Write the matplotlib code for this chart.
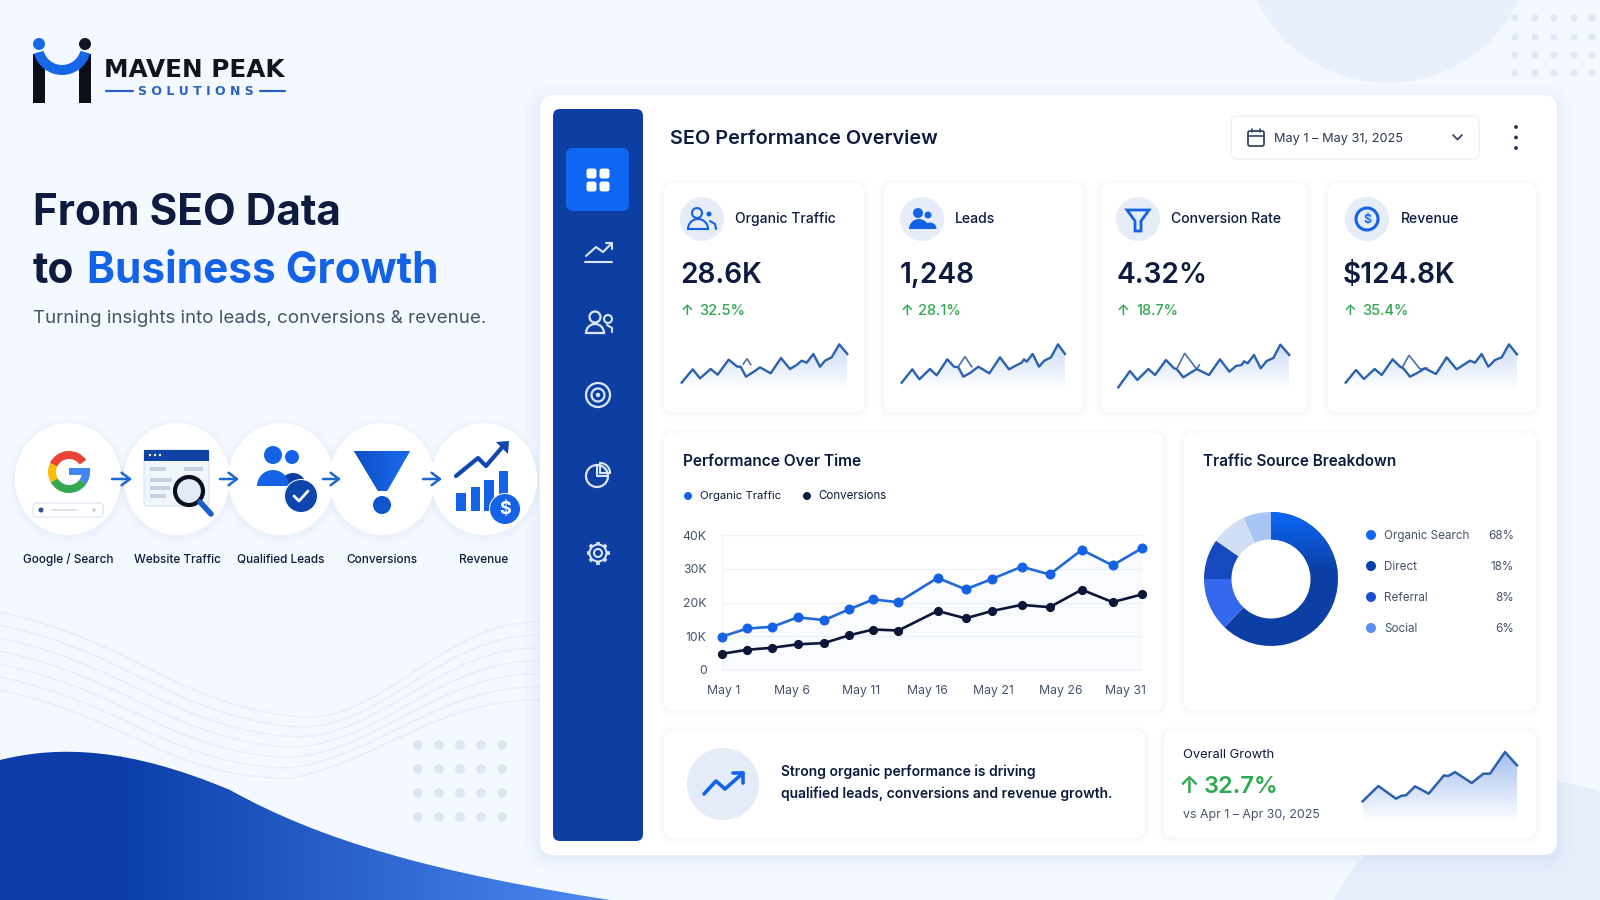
import numpy as np
import matplotlib
matplotlib.use("Agg")
import matplotlib.pyplot as plt
from matplotlib.patches import Circle, Ellipse, FancyBboxPatch, Rectangle, Polygon, Wedge, PathPatch
from matplotlib.path import Path
from matplotlib.colors import LinearSegmentedColormap

plt.rcParams['font.family'] = ['Inter', 'DejaVu Sans']

# ---- data ----
days = [1, 2.8, 4.6, 6.4, 8.3, 10.1, 11.8, 13.6, 16.4, 18.4, 20.3, 22.4, 24.4, 26.7, 28.9, 31]
organic = [9.9, 12.3, 12.8, 15.6, 14.8, 18.0, 20.9, 20.1, 27.3, 23.9, 27.0, 30.6, 28.3, 35.6, 31.0, 36.1]
conversions = [4.8, 6.0, 6.6, 7.6, 8.0, 10.3, 12.0, 11.7, 17.5, 15.3, 17.5, 19.3, 18.6, 23.8, 20.1, 22.4]
y_ticks = [0, 10, 20, 30, 40]
y_labels = ['0', '10K', '20K', '30K', '40K']
x_tick_days = [1.1, 6, 10.9, 15.7, 20.4, 25.2, 29.8]
x_labels = ['May 1', 'May 6', 'May 11', 'May 16', 'May 21', 'May 26', 'May 31']

kpi_names = ['Organic Traffic', 'Leads', 'Conversion Rate', 'Revenue']
kpi_values = ['28.6K', '1,248', '4.32%', '$124.8K']
kpi_growth = ['32.5%', '28.1%', '18.7%', '35.4%']

spark1_x = [95, 128, 150, 182, 203, 236, 262, 272, 288, 310, 330, 362, 393, 420, 440, 455, 470, 490, 510, 525, 545, 568, 592]
spark1_y = [22, 62, 35, 63, 46, 91, 70, 70, 40, 54, 68, 50, 96, 63, 75, 88, 82, 108, 70, 88, 98, 137, 108]
spark2_x = [755, 787, 808, 840, 860, 892, 912, 925, 940, 962, 985, 1018, 1050, 1077, 1097, 1115, 1122, 1130, 1148, 1167, 1183, 1203, 1224, 1245]
spark2_y = [22, 62, 32, 63, 44, 92, 70, 68, 40, 52, 70, 50, 98, 62, 73, 82, 92, 85, 108, 70, 88, 98, 137, 108]
spark3_x = [115, 150, 172, 205, 225, 258, 282, 290, 310, 332, 350, 387, 420, 448, 468, 485, 492, 503, 522, 542, 560, 580, 601, 628]
spark3_y = [8, 57, 30, 63, 45, 90, 65, 63, 38, 52, 63, 45, 92, 55, 72, 75, 86, 80, 105, 65, 87, 96, 136, 105]
spark4_x = [797, 828, 852, 884, 905, 938, 960, 970, 990, 1010, 1035, 1068, 1100, 1130, 1150, 1170, 1185, 1205, 1225, 1245, 1265, 1287, 1311]
spark4_y = [22, 60, 33, 63, 45, 92, 70, 65, 40, 50, 65, 48, 98, 62, 75, 88, 82, 108, 70, 90, 98, 137, 107]
# little stray strokes that sit on top of the sparklines
stray1_x, stray1_y = [280, 291, 302], [78, 94, 76]
stray2_x, stray2_y = [925, 945, 965], [70, 100, 70]
stray3_x, stray3_y = [290, 314, 350, 358], [63, 110, 63, 75]
stray4_x, stray4_y = [968, 987, 1020, 1040], [70, 104, 63, 66]
overall_x = [668, 715, 768, 785, 798, 825, 848, 866, 912, 925, 945, 995, 1030, 1050, 1095, 1131]
overall_y = [62, 108, 70, 79, 80, 107, 95, 85, 140, 138, 150, 117, 145, 145, 210, 170]

donut_shares = [62.2, 12.8, 9.7, 8.6, 6.7]
donut_colors = ['#0c3fa3', '#3568ee', '#1549bd', '#d0def6', '#a8c5f4']
source_names = ['Organic Search', 'Direct', 'Referral', 'Social']
source_pct = ['68%', '18%', '8%', '6%']
source_colors = ['#1467f0', '#0d3fa8', '#1a50d0', '#5b8cf0']

step_names = ['Google / Search', 'Website Traffic', 'Qualified Leads', 'Conversions', 'Revenue']

NAVY = '#0d1b3e'
BLUE = '#1463e6'
DEEP = '#0d3fa3'
GREEN = '#2fa84f'
GREY = '#47536a'

fig = plt.figure(figsize=(16, 9), dpi=100, facecolor='#f4f8ff')
bg = fig.add_axes([0, 0, 1, 1])
bg.set_xlim(0, 1600)
bg.set_ylim(900, 0)
bg.axis('off')


def box(x0, y0, x1, y1, r=12, fc='white', ec='none', lw=1, z=3, ax=bg):
    p = FancyBboxPatch((x0 + r, y0 + r), x1 - x0 - 2 * r, y1 - y0 - 2 * r,
                       boxstyle=f'round,pad={r},rounding_size={r}', fc=fc, ec=ec, lw=lw, zorder=z)
    ax.add_patch(p)
    return p


def card(x0, y0, x1, y1):
    # soft shadow then white card
    for grow, a in [(5, 0.02), (3, 0.03), (1.5, 0.04)]:
        box(x0 - grow, y0 - grow + 1, x1 + grow, y1 + grow + 1, r=10 + grow, fc='#b9cdee', z=3.4)
        bg.patches[-1].set_alpha(a)
    box(x0, y0, x1, y1, r=10, fc='white', ec='#f6f8fc', z=3.5)


def circle(x, y, r, fc, z=5, ec='none', lw=1):
    c = Circle((x, y), r, fc=fc, ec=ec, lw=lw, zorder=z)
    bg.add_patch(c)
    return c


def line(xs, ys, color, lw=2, z=6, ax=bg, cap='round'):
    ax.plot(xs, ys, color=color, lw=lw, zorder=z, solid_capstyle=cap, solid_joinstyle='round')


def label(x, y, s, size=9, color=NAVY, weight='normal', ha='left', va='center', z=7):
    # Inter sits a bit high when centred, nudge it down
    return bg.text(x, y + 0.5 + 0.12 * size, s, fontsize=size, color=color, fontweight=weight, ha=ha, va=va, zorder=z)


def grad_clip(ax, patch, c0, c1, extent, horizontal=False, z=2):
    cmap = LinearSegmentedColormap.from_list('g', [c0, c1])
    g = np.linspace(0, 1, 256)
    g = g.reshape(1, -1) if horizontal else g.reshape(-1, 1)
    xl, yl = ax.get_xlim(), ax.get_ylim()
    im = ax.imshow(g, extent=extent, cmap=cmap, aspect='auto', zorder=z, origin='upper')
    im.set_clip_path(patch)
    ax.set_xlim(xl)
    ax.set_ylim(yl)


def spark(x, y, box_px, top, lw=1.7, fill_top=0.28, stray=None):
    left, bottom_px, w, h = box_px
    ax = fig.add_axes([left / 1600, 1 - bottom_px / 900, w / 1600, h / 900])
    ax.patch.set_alpha(0)
    ax.axis('off')
    ax.set_xlim(x[0], x[-1])
    ax.set_ylim(0, top)
    poly = Polygon(list(zip(x, y)) + [(x[-1], 0), (x[0], 0)], closed=True, fc='none', ec='none')
    ax.add_patch(poly)
    rgba = np.zeros((256, 1, 4))
    rgba[..., 0], rgba[..., 1], rgba[..., 2] = 0.25, 0.47, 0.88
    rgba[:, 0, 3] = np.linspace(fill_top, 0.0, 256)
    im = ax.imshow(rgba, extent=[x[0], x[-1], 0, top], aspect='auto', zorder=1, origin='upper')
    im.set_clip_path(poly)
    ax.set_xlim(x[0], x[-1])
    ax.set_ylim(0, top)
    if stray:
        ax.plot(stray[0], stray[1], color='#4d6fa8', lw=1.2, zorder=2, clip_on=False)
    ax.plot(x, y, color='#2c62ad', lw=lw, zorder=3, solid_joinstyle='round', clip_on=False)


# ---- background ----
circle(1388, -62, 145, '#e9f0fc', z=1)
circle(1530, 1000, 220, '#e6eefb', z=1)
for yy in [18, 37, 55, 73]:
    for xx in [1515, 1535, 1554, 1574, 1592]:
        circle(xx, yy, 3.6, '#e1e9f6', z=1)
for yy in [745, 769, 793, 817]:
    for xx in [418, 439, 460, 481, 502]:
        circle(xx, yy, 4.8, '#dde6f4', z=1)
for i in range(7):
    d = i * 13
    verts = [(0, 612 + d), (130, 640 + d), (170, 700 + d), (290, 716 + d * 0.8),
             (380, 730 + d * 0.4), (440, 620 + d), (540, 622 + d)]
    codes = [Path.MOVETO] + [Path.CURVE4] * 6
    bg.add_patch(PathPatch(Path(verts, codes), fc='none', ec='#e8eef8', lw=1, zorder=1))
wave_v = [(0, 760), (60, 745), (130, 748), (230, 790), (320, 840), (430, 872), (610, 900), (0, 900), (0, 760)]
wave_c = [Path.MOVETO, Path.CURVE4, Path.CURVE4, Path.CURVE4, Path.CURVE4, Path.CURVE4, Path.CURVE4,
          Path.LINETO, Path.CLOSEPOLY]
wave = PathPatch(Path(wave_v, wave_c), fc='none', ec='none', zorder=2)
bg.add_patch(wave)
grad_clip(bg, wave, '#0b3ea8', '#4f8cf5', [120, 620, 900, 740], horizontal=True)
bg.add_patch(PathPatch(Path(wave_v, wave_c), fc='none', ec='none', zorder=2))
left_wave = PathPatch(Path(wave_v, wave_c), fc='none', ec='none', zorder=2)
bg.add_patch(left_wave)
grad_clip(bg, left_wave, '#0b3ea8', '#0b3ea8', [0, 121, 900, 740], horizontal=True)

# ---- logo ----
bg.add_patch(Rectangle((33, 54), 12, 49, fc='#0c0f1a', zorder=4))
bg.add_patch(Rectangle((79, 54), 12, 49, fc='#0c0f1a', zorder=4))
bg.add_patch(Wedge((62, 46), 29, 15, 165, width=10, fc='#1668e8', zorder=5))
circle(39, 44, 6, '#1668e8')
circle(85, 44, 6, '#111522')
label(104, 67, 'MAVEN PEAK', size=17.8, weight='bold', color='#12151f').set_family('DejaVu Sans')
label(196, 90, 'S O L U T I O N S', size=9, weight='bold', color='#2a62c4', ha='center').set_family('DejaVu Sans')
line([106, 133], [91, 91], '#2a62c4', 1.6)
line([260, 285], [91, 91], '#2a62c4', 1.6)

# ---- headline ----
label(33, 209, 'From SEO Data', size=30.5, weight='bold')
label(33, 267, 'to', size=30.5, weight='bold')
label(87, 267, 'Business Growth', size=30.5, weight='bold', color=BLUE)
label(33, 316, 'Turning insights into leads, conversions & revenue.', size=13.5, color=GREY)

# ---- funnel steps ----
step_x = [68, 177, 281, 382, 484]
for sx, name in zip(step_x, step_names):
    for grow, a in [(6, 0.05), (3, 0.07)]:
        bg.add_patch(Ellipse((sx, 481), 106 + 2 * grow, 112 + 2 * grow, fc='#b9cdee', ec='none', alpha=a, zorder=3))
    bg.add_patch(Ellipse((sx, 479), 106, 112, fc='white', ec='none', zorder=4))
    label(sx, 558, name, size=8.5, ha='center', weight='medium')
for x0, x1 in [(112, 132), (220, 239), (323, 341), (423, 442)]:
    bg.annotate('', xy=(x1, 479), xytext=(x0, 479), zorder=8,
                arrowprops=dict(arrowstyle='->,head_width=0.45,head_length=0.6', color='#1f66d0', lw=1.8,
                                shrinkA=0, shrinkB=0))

# google G, angles are flipped since y axis is inverted
for a0, a1, col in [(205, 325, '#ea4335'), (150, 205, '#fbbc05'), (35, 150, '#34a853'), (0, 35, '#4285f4')]:
    bg.add_patch(Wedge((69, 472), 21, a0, a1, width=8, fc=col, zorder=6))
bg.add_patch(Rectangle((69, 468), 21, 7, fc='#4285f4', zorder=6))
box(33, 503, 103, 517, r=4, fc='white', ec='#dfe6f3', z=6)
line([52, 76], [510, 510], '#d3dbe8', 1.2, z=7)
circle(41, 510, 2.5, '#31548f', z=7)
circle(94, 510, 1.8, '#c5d0e2', z=7)

# website window
box(144, 450, 209, 506, r=3, fc='#f1f5fc', ec='#dfe6f3', z=6)
bg.add_patch(Rectangle((144, 450), 65, 11, fc='#0f44a5', zorder=7))
for dx in [150, 155, 160]:
    circle(dx, 455, 1.2, 'white', z=8)
for x0, x1, yy in [(150, 166, 469), (184, 203, 469), (150, 172, 480), (150, 170, 488), (150, 166, 496)]:
    bg.add_patch(Rectangle((x0, yy - 2), x1 - x0, 4, fc='#c7d1e4', zorder=7))
circle(189, 491, 14, '#e3eaf6', z=8, ec='#0b1020', lw=3)
line([200, 211], [502, 514], '#1b5fcc', 4, z=9)

# people + check
circle(273, 455, 9, BLUE, z=6)
circle(292, 457, 7, BLUE, z=6)
bg.add_patch(Wedge((273, 486), 16, 180, 360, fc=BLUE, zorder=6))
bg.add_patch(Wedge((293, 486), 13, 180, 360, fc=DEEP, zorder=5.5))
circle(301, 496, 17, 'white', z=6.5)
circle(301, 496, 16, '#0e45ad', z=7)
line([294, 299, 308], [496, 501, 491], 'white', 2, z=8)

# funnel
funnel = Polygon([(354, 451), (410, 451), (387, 491), (378, 491)], closed=True, fc=BLUE, zorder=6)
bg.add_patch(funnel)
grad_clip(bg, funnel, '#0d4ec4', '#1a6cf0', [354, 410, 491, 451], horizontal=True, z=6)
circle(382, 505, 9, '#0f55cc', z=6)

# revenue bars
for x0, x1, top in [(456, 466, 493), (471, 480, 487), (484, 494, 480), (499, 508, 471)]:
    bg.add_patch(Rectangle((x0, top), x1 - x0, 511 - top, fc=BLUE, zorder=6))
line([456, 478, 486, 505], [476, 458, 466, 444], '#0e47ad', 3, z=6)
bg.add_patch(Polygon([(496, 442), (509, 441), (508, 454)], closed=True, fc='#0e47ad', zorder=6))
circle(505, 509, 16, 'white', z=6.5)
circle(505, 509, 15, BLUE, z=7)
label(505, 507, '$', size=13, color='white', ha='center', weight='bold', z=8)

# ---- main panel ----
for grow, a in [(14, 0.025), (9, 0.03), (5, 0.04), (2, 0.05)]:
    box(540 - grow, 95 - grow + 3, 1557 + grow, 855 + grow + 3, r=14 + grow, fc='#9db8e4', z=2.8)
    bg.patches[-1].set_alpha(a)
box(540, 95, 1557, 855, r=14, fc='white', z=3)
sidebar = box(553, 109, 643, 841, r=7, fc='#0d3fa3', z=3.6)
box(566, 148, 629, 211, r=7, fc='#0f66f2', z=4)

# sidebar icons
for dx, dy in [(-6.5, -6.5), (6.5, -6.5), (-6.5, 6.5), (6.5, 6.5)]:
    box(598 + dx - 5, 180 + dy - 5, 598 + dx + 5, 180 + dy + 5, r=2.5, fc='white', z=5)
W = '#dbe6fa'
line([586, 596, 603, 612], [256, 247, 252, 243], W, 1.5)
line([606, 612, 612], [243, 243, 249], W, 1.5)
line([585, 612], [262, 262], W, 1.5)
circle(595, 317, 5.5, 'none', ec=W, lw=1.6, z=6)
circle(608, 319, 4, 'none', ec=W, lw=1.5, z=6)
bg.add_patch(Wedge((595, 333), 9, 180, 360, fc='none', ec=W, lw=1.6, zorder=6))
line([607, 612, 612], [325, 328, 332], W, 1.5)
for r, lw in [(12, 1.6), (6.5, 1.6)]:
    circle(598, 395, r, 'none', ec=W, lw=lw, z=6)
circle(598, 395, 2.2, W, z=6)
circle(597, 476, 11, 'none', ec=W, lw=1.6, z=6)
line([597, 597, 608], [465, 476, 476], W, 1.5)
bg.add_patch(Wedge((600, 473), 10, 270, 360, fc='none', ec=W, lw=1.5, zorder=6))
circle(598, 553, 4, 'none', ec=W, lw=1.5, z=6)
circle(598, 553, 8.5, 'none', ec=W, lw=1.5, z=6)
for ang in np.arange(0, 360, 45):
    c_, s_ = np.cos(np.radians(ang)), np.sin(np.radians(ang))
    line([598 + 8.5 * c_, 598 + 11.5 * c_], [553 + 8.5 * s_, 553 + 11.5 * s_], W, 2.6, cap='butt')

# header row
label(670, 137, 'SEO Performance Overview', size=14.3, weight='semibold')
box(1231, 116, 1479, 159, r=6, fc='white', ec='#eef1f7', z=4)
box(1248, 131, 1264, 146, r=2, fc='none', ec='#3a4760', lw=1.3, z=5)
line([1248, 1264], [135.5, 135.5], '#3a4760', 1.2)
line([1252, 1252], [128.5, 132], '#3a4760', 1.2)
line([1260, 1260], [128.5, 132], '#3a4760', 1.2)
label(1274, 137, 'May 1 – May 31, 2025', size=9.2, color='#2b364d')
line([1453, 1457.5, 1462], [135, 139.5, 135], '#3a4760', 1.3)
for yy in [127, 137.5, 148]:
    circle(1516, yy, 1.9, '#26314a', z=6)

# ---- kpi cards ----
card_x = [(663, 865), (883, 1084), (1100, 1308), (1327, 1537)]
icon_x = [702, 922, 1138, 1367]
name_x = [735, 955, 1171, 1401]
num_x = [680, 900, 1116, 1343]
pct_x = [699, 918, 1136, 1362]
spark_org = [650, 650, 1080, 1080]
sparks = [(spark1_x, spark1_y, (stray1_x, stray1_y)), (spark2_x, spark2_y, (stray2_x, stray2_y)),
          (spark3_x, spark3_y, (stray3_x, stray3_y)), (spark4_x, spark4_y, (stray4_x, stray4_y))]
for i in range(4):
    card(card_x[i][0], 182, card_x[i][1], 413)
    circle(icon_x[i], 219, 22, '#e6edf9', z=4)
    label(name_x[i], 217, kpi_names[i], size=10.1, weight='medium')
    label(num_x[i], 273, kpi_values[i], size=20.2, weight='semibold')
    label(num_x[i] + 1, 309, '↑', size=10.5, color=GREEN, weight='semibold')
    label(pct_x[i], 309, kpi_growth[i], size=10.5, color=GREEN, weight='medium')
    sx, sy, st = sparks[i]
    left = spark_org[i] + sx[0] / 3
    spark(sx, sy, (left, 390, (sx[-1] - sx[0]) / 3, 50), 150, stray=st)

# kpi icons
ic = BLUE
circle(697, 213, 5, 'none', ec=ic, lw=1.5, z=6)
circle(709, 214, 2.5, ic, z=6)
bg.add_patch(Wedge((698, 229), 10, 180, 360, fc='none', ec=ic, lw=1.5, zorder=6))
line([688, 708], [229, 229], ic, 1.5)
line([710, 715, 716], [221, 224, 229], ic, 1.5)
circle(918, 213, 5, ic, z=6)
circle(928, 215, 3.5, ic, z=6)
bg.add_patch(Wedge((919, 229), 10, 180, 360, fc=ic, zorder=6))
bg.add_patch(Wedge((930, 229), 6.5, 180, 360, fc=ic, zorder=6))
bg.add_patch(Polygon([(1127, 210), (1149, 210), (1141, 221), (1141, 231), (1135, 231), (1135, 221)],
                     closed=True, fc='none', ec=ic, lw=2, zorder=6))
circle(1367, 219, 11, 'none', ec=ic, lw=2.2, z=6)
label(1367, 218, '$', size=9, color=ic, ha='center', weight='semibold')

# ---- performance over time ----
card(663, 432, 1164, 711)
label(683, 460, 'Performance Over Time', size=11.2, weight='semibold')
circle(688, 496, 4, BLUE, z=6)
label(700, 495, 'Organic Traffic', size=8.2)
circle(807, 496, 4, NAVY, z=6)
label(818, 495, 'Conversions', size=8.3)

ax = fig.add_axes([722 / 1600, 1 - 670 / 900, 420 / 1600, 135 / 900])
ax.patch.set_alpha(0)
ax.set_xlim(1, 31)
ax.set_ylim(0, 40)
ax.plot(days, organic, color='#2168d8', lw=1.9, marker='o', ms=6.2, mfc=BLUE, mec=BLUE, clip_on=False, zorder=4)
ax.plot(days, conversions, color='#0d1638', lw=1.9, marker='o', ms=5.6, mfc='#0d1638', mec='#0d1638', clip_on=False, zorder=4)
ax.fill_between(days, organic, color='#2168d8', alpha=0.025, lw=0)
ax.set_yticks(y_ticks)
ax.set_yticklabels(y_labels, fontsize=8.8, color=GREY)
ax.set_xticks(x_tick_days)
ax.set_xticklabels(x_labels, fontsize=8.8, color=GREY)
ax.tick_params(axis='y', length=0, pad=11)
ax.tick_params(axis='x', length=0, pad=11)
ax.grid(axis='y', color='#f0f3f8', lw=1)
ax.set_axisbelow(True)
for s in ax.spines.values():
    s.set_visible(False)
ax.spines['left'].set_visible(True)
ax.spines['left'].set_color('#f0f3f8')
ax.spines['bottom'].set_visible(True)
ax.spines['bottom'].set_color('#f0f3f8')

# ---- traffic breakdown ----
card(1183, 432, 1537, 711)
label(1203, 460, 'Traffic Source Breakdown', size=11, weight='semibold')
ax2 = fig.add_axes([(1271 - 67) / 1600, 1 - (579 + 67) / 900, 134 / 1600, 134 / 900])
wedges, _ = ax2.pie(donut_shares, colors=donut_colors, startangle=90, counterclock=False, radius=1,
                    wedgeprops=dict(width=0.41, lw=0))
ax2.set_xlim(-1, 1)
ax2.set_ylim(-1, 1)
grad_clip(ax2, wedges[0], '#0a68fa', '#0c3fa3', [-1, 1, 0.1, 1], z=2)
ax2.set_xlim(-1, 1)
ax2.set_ylim(-1, 1)
ax2.set_aspect('equal')

source_y = [535, 566, 597, 628]
for n, p, c, yy in zip(source_names, source_pct, source_colors, source_y):
    circle(1371, yy, 5, c, z=6)
    label(1384, yy - 0.5, n, size=8.4, color=GREY)
    label(1514, yy - 0.5, p, size=8.4, color=GREY, ha='right')

# ---- bottom row ----
card(663, 730, 1146, 838)
circle(723, 784, 36, '#e4ecf9', z=4)
line([704, 716, 725, 743], [794, 781, 789, 773], BLUE, 2.6)
line([733, 743, 743], [773, 773, 783], BLUE, 2.6)
label(781, 770, 'Strong organic performance is driving', size=10, weight='semibold')
label(781, 792, 'qualified leads, conversions and revenue growth.', size=10, weight='semibold')

card(1163, 730, 1537, 838)
label(1183, 753, 'Overall Growth', size=9.3)
label(1179, 784, '↑', size=17, color=GREEN, weight='semibold')
label(1204, 784, '32.7%', size=17, color=GREEN, weight='semibold')
label(1183, 813, 'vs Apr 1 – Apr 30, 2025', size=8.9, color=GREY)
spark(overall_x, overall_y, (1140 + overall_x[0] / 3, 822, (overall_x[-1] - overall_x[0]) / 3, 73.3), 220,
      lw=1.8, fill_top=0.5)

fig.savefig('out.png', dpi=100, facecolor=fig.get_facecolor())
